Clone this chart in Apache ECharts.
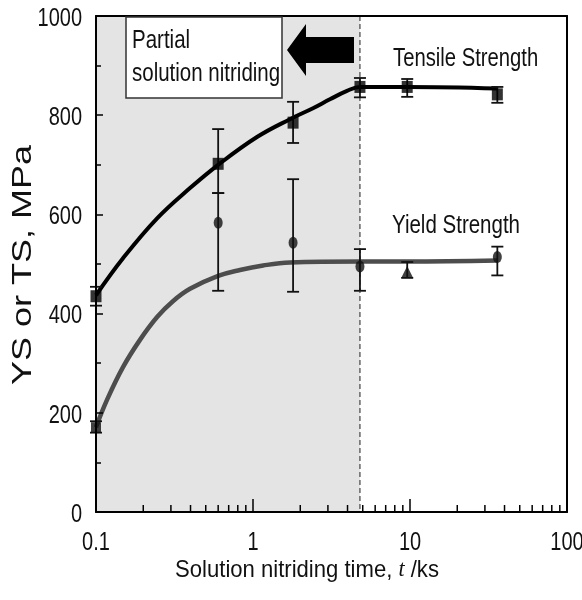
<!DOCTYPE html>
<html>
<head>
<meta charset="utf-8">
<style>
  html, body { margin: 0; padding: 0; background: #fff; }
  #chart { width: 582px; height: 600px; }
</style>
<script src="https://cdn.jsdelivr.net/npm/echarts@6/dist/echarts.min.js"></script>
</head>
<body>
<div id="chart"></div>
<script>
// Measured points: nitriding time (ks)
var times = [0.1, 0.6, 1.8, 4.8, 9.6, 36];

// Tensile strength (MPa) with error range
var tsMean = [435, 702, 785, 857, 857, 842];
var tsLow  = [416, 643, 744, 836, 837, 825];
var tsHigh = [454, 772, 827, 875, 873, 857];

// Yield strength (MPa) with error range
var ysMean = [171, 583, 543, 495, 484, 514];
var ysLow  = [160, 446, 444, 446, 472, 477];
var ysHigh = [183, 643, 671, 530, 504, 535];

// Fitted trend curves
var tsCurveX = [0.1, 0.149, 0.245, 0.397, 0.6, 1.06, 1.72, 2.41, 3.09, 3.97, 4.8, 9.6, 36];
var tsCurveY = [437, 512, 592, 653, 700, 756, 792, 814, 832, 849, 857, 857, 854];
var ysCurveX = [0.1, 0.1175, 0.1486, 0.1906, 0.245, 0.309, 0.397, 0.6, 0.826, 1.16, 1.72, 4.8, 9.6, 36];
var ysCurveY = [171, 226, 292, 347, 393, 425, 450, 476, 488, 497, 503, 505, 505, 507];

// Partial solution nitriding range (ks)
var partialRange = [0.1, 4.8];

// Tick labels
var xTickValues = [0.1, 1, 10, 100];
var xTickLabels = ['0.1', '1', '10', '100'];
var yTickValues = [0, 200, 400, 600, 800, 1000];
var yTickLabels = ['0', '200', '400', '600', '800', '1000'];

// Minor log ticks on the time axis
var minorTimeTicks = [0.2, 0.3, 0.4, 0.5, 0.6, 0.7, 0.8, 0.9,
                      2, 3, 4, 5, 6, 7, 8, 9,
                      20, 30, 40, 50, 60, 70, 80, 90];

var yRange = { min: 0, max: 1000, step: 200 };

function zip(a, b) { return a.map(function (v, i) { return [v, b[i]]; }); }

var SANS = "'Liberation Sans', Arial, sans-serif";
var CONDENSE = 0.8;   // horizontal squeeze giving the narrow lettering

var chart = echarts.init(document.getElementById('chart'), null, { renderer: 'canvas' });

function errorBars(low, high) {
  return {
    type: 'custom',
    z: 3,
    silent: true,
    data: times.map(function (t, i) { return [t, low[i], high[i]]; }),
    renderItem: function (params, api) {
      var lo = api.coord([api.value(0), api.value(1)]);
      var hi = api.coord([api.value(0), api.value(2)]);
      var w = 6;
      var st = { stroke: '#111', lineWidth: 1.8 };
      return {
        type: 'group',
        children: [
          { type: 'line', shape: { x1: lo[0], y1: lo[1], x2: hi[0], y2: hi[1] }, style: st },
          { type: 'line', shape: { x1: lo[0] - w, y1: lo[1], x2: lo[0] + w, y2: lo[1] }, style: st },
          { type: 'line', shape: { x1: hi[0] - w, y1: hi[1], x2: hi[0] + w, y2: hi[1] }, style: st }
        ]
      };
    }
  };
}

var option = {
  animation: false,
  backgroundColor: '#ffffff',
  grid: { left: 96, right: 15, top: 16, bottom: 88, containLabel: false },
  xAxis: [{
    type: 'log', logBase: 10, min: 0.1, max: 100, z: 6,
    axisLine: { show: true, lineStyle: { color: '#000', width: 2 } },
    axisTick: { show: true, inside: true, length: 13, lineStyle: { color: '#000', width: 1.5 } },
    minorTick: { show: false },
    splitLine: { show: false },
    axisLabel: { show: false }
  }, {
    type: 'log', logBase: 10, min: 0.1, max: 100, position: 'top', z: 6,
    axisLine: { show: true, onZero: false, lineStyle: { color: '#000', width: 2 } },
    axisTick: { show: false }, axisLabel: { show: false }, splitLine: { show: false }
  }],
  yAxis: [{
    type: 'value', min: yRange.min, max: yRange.max, interval: yRange.step, z: 6,
    axisLine: { show: true, lineStyle: { color: '#000', width: 2 } },
    axisTick: { show: true, inside: true, length: 7, lineStyle: { color: '#000', width: 1.5 } },
    minorTick: { show: true, splitNumber: 2, length: 5, lineStyle: { color: '#000', width: 1.5 } },
    splitLine: { show: false },
    axisLabel: { show: false }
  }, {
    type: 'value', min: yRange.min, max: yRange.max, position: 'right', z: 6,
    axisLine: { show: true, onZero: false, lineStyle: { color: '#000', width: 2 } },
    axisTick: { show: false }, axisLabel: { show: false }, splitLine: { show: false }
  }],
  series: [
    {
      // shaded partial-nitriding band and its dashed boundary
      type: 'custom', z: 0, silent: true,
      data: [[partialRange[0], partialRange[1]]],
      renderItem: function (params, api) {
        var a = api.coord([api.value(0), yRange.max]);
        var b = api.coord([api.value(1), yRange.min]);
        return {
          type: 'group',
          children: [
            { type: 'rect', shape: { x: a[0], y: a[1], width: b[0] - a[0], height: b[1] - a[1] },
              style: { fill: '#e4e4e4' } },
            { type: 'line', shape: { x1: b[0], y1: a[1], x2: b[0], y2: b[1] },
              style: { stroke: '#222', lineWidth: 1, lineDash: [5, 3] } }
          ]
        };
      }
    },
    {
      // minor log ticks along the time axis
      type: 'custom', z: 6, silent: true,
      data: minorTimeTicks.map(function (v) { return [v, yRange.min]; }),
      renderItem: function (params, api) {
        var p = api.coord([api.value(0), api.value(1)]);
        return { type: 'line', shape: { x1: p[0], y1: p[1], x2: p[0], y2: p[1] - 7 },
                 style: { stroke: '#000', lineWidth: 1.5 } };
      }
    },
    {
      // time axis tick labels
      type: 'custom', z: 6, silent: true, clip: false,
      data: xTickValues.map(function (v, i) { return [v, yRange.min, i]; }),
      renderItem: function (params, api) {
        var p = api.coord([api.value(0), api.value(1)]);
        return { type: 'text', x: p[0], y: p[1] + 31, scaleX: CONDENSE,
                 style: { text: xTickLabels[api.value(2)], font: '25px ' + SANS, fill: '#111',
                          align: 'center', verticalAlign: 'middle' } };
      }
    },
    {
      // strength axis tick labels
      type: 'custom', z: 6, silent: true, clip: false,
      data: yTickValues.map(function (v, i) { return [partialRange[0], v, i]; }),
      renderItem: function (params, api) {
        var p = api.coord([api.value(0), api.value(1)]);
        return { type: 'text', x: p[0] - 14, y: p[1] + 3, scaleX: CONDENSE,
                 style: { text: yTickLabels[api.value(2)], font: '25px ' + SANS, fill: '#111',
                          align: 'right', verticalAlign: 'middle' } };
      }
    },
    {
      name: 'Yield curve', type: 'line', z: 2, silent: true,
      data: zip(ysCurveX, ysCurveY), showSymbol: false, smooth: 0.4,
      lineStyle: { color: '#4d4d4d', width: 4.5 }
    },
    {
      name: 'Tensile curve', type: 'line', z: 2, silent: true,
      data: zip(tsCurveX, tsCurveY), showSymbol: false, smooth: 0.4,
      lineStyle: { color: '#000', width: 4 }
    },
    errorBars(tsLow, tsHigh),
    errorBars(ysLow, ysHigh),
    {
      name: 'Tensile Strength', type: 'scatter', z: 4,
      data: zip(times, tsMean), symbol: 'rect', symbolSize: [11, 12],
      itemStyle: { color: '#000' }
    },
    {
      name: 'Yield Strength', type: 'scatter', z: 4,
      data: zip(times, ysMean),
      symbol: function (v, p) { return p.dataIndex === 0 ? 'rect' : (p.dataIndex === 4 ? 'triangle' : 'circle'); },
      symbolSize: function (v, p) { return p.dataIndex === 4 ? [12, 12] : (p.dataIndex === 0 ? [10, 10] : [9, 12]); },
      itemStyle: { color: '#111' }
    }
  ],
  graphic: [
    { type: 'rect', z: 10, shape: { x: 126, y: 17, width: 156, height: 81 },
      style: { fill: '#fff', stroke: '#333', lineWidth: 1.5 } },
    { type: 'text', z: 11, x: 132, y: 41, scaleX: 0.82,
      style: { text: 'Partial', font: '25px ' + SANS, fill: '#111', verticalAlign: 'middle' } },
    { type: 'text', z: 11, x: 132, y: 74, scaleX: 0.82,
      style: { text: 'solution nitriding', font: '25px ' + SANS, fill: '#111', verticalAlign: 'middle' } },
    { type: 'polygon', z: 10,
      shape: { points: [[287, 50], [306, 24], [306, 37], [354, 37], [354, 63], [306, 63], [306, 76]] },
      style: { fill: '#000' } },
    { type: 'text', z: 11, x: 393, y: 59, scaleX: 0.81,
      style: { text: 'Tensile Strength', font: '25px ' + SANS, fill: '#111', verticalAlign: 'middle' } },
    { type: 'text', z: 11, x: 392, y: 226, scaleX: 0.82,
      style: { text: 'Yield Strength', font: '25px ' + SANS, fill: '#111', verticalAlign: 'middle' } },
    { type: 'text', z: 11, x: 23, y: 265, rotation: Math.PI / 2, scaleY: 0.78,
      style: { text: 'YS or TS, MPa', font: '36px ' + SANS, fill: '#111', align: 'center', verticalAlign: 'middle' } },
    { type: 'text', z: 11, x: 307, y: 570, scaleX: 0.92,
      style: {
        text: 'Solution nitriding time, {i|t} /ks', font: '24px ' + SANS, fill: '#111',
        align: 'center', verticalAlign: 'middle',
        rich: { i: { fontStyle: 'italic', fontFamily: "'Liberation Serif', serif", fontSize: 24, fill: '#111' } }
      } }
  ]
};

chart.setOption(option);
</script>
</body>
</html>
